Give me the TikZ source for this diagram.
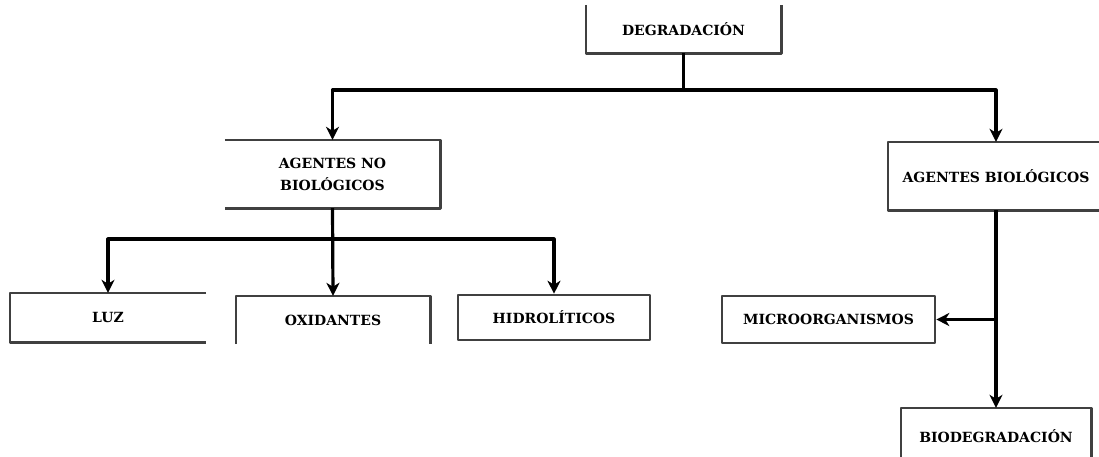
\documentclass[tikz,border=0pt]{standalone}
\usepackage{fontspec}
\setmainfont{DejaVu Serif}
\usetikzlibrary{arrows.meta}

\begin{document}
\begin{tikzpicture}[x=1pt,y=-1pt,
        caja/.style={minimum width=#1, inner sep=0pt, align=center,
            font=\fontsize{14}{22}\selectfont\bfseries},
        borde/.style={draw=black!75, line width=2.6pt, line join=round},
        linea/.style={line width=3.2pt, line join=round},
        flecha/.style={linea, -{Stealth[length=13pt,width=13pt,inset=4pt]}}]
            \useasboundingbox (0,0) rectangle (1099,456);
            % cajas
            \node[caja=195pt, minimum height=48pt] (deg) at (683.5,29) {DEGRADACIÓN};
            \node[caja=215pt, minimum height=68pt] (ano) at (332.5,174) {AGENTES NO\\BIOLÓGICOS};
            \node[caja=216pt, minimum height=68pt] (abio) at (996,176) {AGENTES BIOLÓGICOS};
            \node[caja=196pt, minimum height=49pt] (luz) at (108,317.5) {LUZ};
            \node[caja=194pt, minimum height=48pt] (oxi) at (333,320) {OXIDANTES};
            \node[caja=192pt, minimum height=45pt, borde] (hid) at (554,317.5) {HIDROLÍTICOS};
            \node[caja=213pt, minimum height=47pt, borde] (micro) at (828.5,319.5) {MICROORGANISMOS};
            \node[caja=190pt, minimum height=56pt] (biod) at (996,436) {BIODEGRADACIÓN};
            \draw[borde] (deg.north west) -- (deg.south west) -- (deg.south east) -- (deg.north east);
            \draw[borde] (ano.north west) -- (ano.north east) -- (ano.south east) -- (ano.south west);
            \draw[borde] (abio.north east) -- (abio.north west) -- (abio.south west) -- (abio.south east);
            \draw[borde] (luz.north east) -- (luz.north west) -- (luz.south west) -- (luz.south east);
            \draw[borde] (oxi.south west) -- (oxi.north west) -- (oxi.north east) -- (oxi.south east);
            \draw[borde] (biod.south west) -- (biod.north west) -- (biod.north east) -- (biod.south east);
            % conectores
            \coordinate (j1) at (683.5,90);
            \coordinate (j2) at (332.5,239);
            \coordinate (j3) at (abio.south |- micro.east);
            \draw[linea] (deg.south) -- (j1);
            \draw[flecha] (j1) -| (ano.north);
            \draw[flecha] (j1) -| (abio.north);
            \draw[flecha] (ano.south) -- (oxi.north);
            \draw[flecha] (j2) -| (luz.north);
            \draw[flecha] (j2) -| (hid.north);
            \draw[flecha] (abio.south) -- (biod.north);
            \draw[flecha] (j3) -- (micro.east);
        \end{tikzpicture}
\end{document}
